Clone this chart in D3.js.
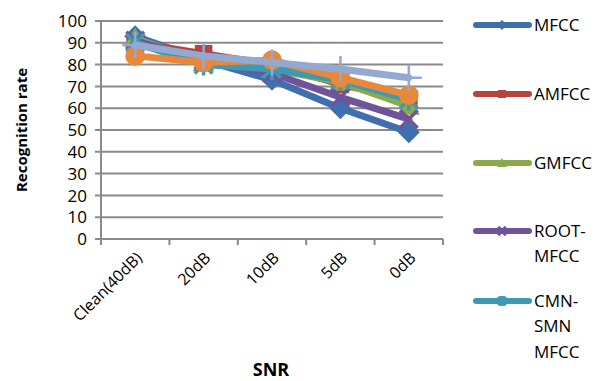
<!DOCTYPE html>
<html><head><meta charset="utf-8">
<script src="https://cdn.jsdelivr.net/npm/d3@7"></script>
<style>body{margin:0;background:#fff}svg{display:block}text{font-family:"Open Sans",sans-serif}</style>
</head><body><svg id="c" width="607" height="381"></svg>
<script>
const categories = ["Clean(40dB)", "20dB", "10dB", "5dB", "0dB"];
const seriesNames = ["MFCC", "AMFCC", "GMFCC", "ROOT-MFCC", "CMN-SMN MFCC", "Series6", "Series7"];
const mfcc   = [93, 82, 73, 60, 49];
const amfcc  = [90, 85, 80, 71, 64];
const gmfcc  = [92, 81, 78, 72, 61];
const rootm  = [91, 82, 76, 65, 55];
const cmnsmn = [90, 80, 78, 73, 64];
const s6     = [84, 81, 82, 74, 66];
const s7     = [89, 84, 81, 78, 74];
const yTicks = [0,10,20,30,40,50,60,70,80,90,100];
const legendLines = [["MFCC"],["AMFCC"],["GMFCC"],["ROOT-","MFCC"],["CMN-","SMN","MFCC"]];

const colors = ["#3F6FAE", "#B5443F", "#8BAA4A", "#70549A", "#3C9AB2", "#E8883A", "#93A9D1"];
const markers = ["diamond","square","triangle","x","star","circle","plus"];
const values = [mfcc, amfcc, gmfcc, rootm, cmnsmn, s6, s7];

const svg = d3.select("#c");
const L = 101, R = 443, T = 21, B = 239;
const x = d3.scaleBand().domain(categories).range([L, R]);
const y = d3.scaleLinear().domain([0, 100]).range([B, T]);

svg.append("g").selectAll("line").data(yTicks).join("line")
  .attr("x1", L - 6).attr("x2", R).attr("y1", d => y(d)).attr("y2", d => y(d))
  .attr("stroke", "#8a8a8a").attr("stroke-width", 2);
svg.append("line").attr("x1", L).attr("x2", L).attr("y1", T).attr("y2", B + 6)
  .attr("stroke", "#8a8a8a").attr("stroke-width", 2);
const xt = categories.map(c => x(c)).concat([R]);
svg.append("g").selectAll("line").data(xt.slice(1)).join("line")
  .attr("x1", d => d).attr("x2", d => d).attr("y1", B).attr("y2", B + 6)
  .attr("stroke", "#8a8a8a").attr("stroke-width", 2);

svg.append("g").selectAll("text").data(yTicks).join("text")
  .attr("x", L - 14).attr("y", d => y(d)).attr("dy", "0.36em")
  .attr("text-anchor", "end").attr("font-size", 17).attr("fill", "#000").text(d => d);
svg.append("g").selectAll("text").data(categories).join("text")
  .attr("transform", d => `translate(${x(d) + x.bandwidth()/2 + 4},${B + 16}) rotate(-45)`)
  .attr("text-anchor", "end").attr("dy", "0.35em").attr("font-size", 16).text(d => d);

svg.append("text").attr("transform", `translate(27,${(T+B)/2}) rotate(-90)`)
  .attr("text-anchor", "middle").attr("font-size", 15).attr("font-weight", "bold").text("Recognition rate");
svg.append("text").attr("x", 271).attr("y", 376).attr("text-anchor", "middle")
  .attr("font-size", 18).attr("font-weight", "bold").text("SNR");

function marker(g, type, color, cx, cy, s) {
  if (type === "diamond") g.append("path").attr("d", `M${cx},${cy-s}L${cx+s},${cy}L${cx},${cy+s}L${cx-s},${cy}Z`).attr("fill", color);
  else if (type === "square") g.append("rect").attr("x", cx-s*0.8).attr("y", cy-s*0.8).attr("width", s*1.6).attr("height", s*1.6).attr("fill", color);
  else if (type === "triangle") g.append("path").attr("d", `M${cx},${cy-s}L${cx+s},${cy+s*0.8}L${cx-s},${cy+s*0.8}Z`).attr("fill", color);
  else if (type === "circle") g.append("circle").attr("cx", cx).attr("cy", cy).attr("r", s*0.9).attr("fill", color);
  else if (type === "x") g.append("path").attr("d", `M${cx-s*0.8},${cy-s*0.8}L${cx+s*0.8},${cy+s*0.8}M${cx-s*0.8},${cy+s*0.8}L${cx+s*0.8},${cy-s*0.8}`).attr("stroke", color).attr("stroke-width", 3.5);
  else if (type === "star") g.append("path").attr("d", `M${cx-s*0.8},${cy-s*0.8}L${cx+s*0.8},${cy+s*0.8}M${cx-s*0.8},${cy+s*0.8}L${cx+s*0.8},${cy-s*0.8}M${cx},${cy-s}L${cx},${cy+s}`).attr("stroke", color).attr("stroke-width", 3.5);
  else if (type === "plus") g.append("path").attr("d", `M${cx-s},${cy}L${cx+s},${cy}M${cx},${cy-s}L${cx},${cy+s}`).attr("stroke", color).attr("stroke-width", 2.5);
}

const line = d3.line().x((d, i) => x(categories[i]) + x.bandwidth()/2).y(d => y(d));
values.forEach((vals, si) => {
  const g = svg.append("g");
  g.append("path").attr("d", line(vals)).attr("fill", "none").attr("stroke", colors[si])
    .attr("stroke-width", 7).attr("stroke-linejoin", "round").attr("stroke-linecap", "round");
  vals.forEach((v, i) => marker(g, markers[si], colors[si], x(categories[i]) + x.bandwidth()/2, y(v), markers[si]==="plus"?13:11));
});

let ly = 25;
const lg = svg.append("g");
legendLines.forEach((lines, si) => {
  lg.append("line").attr("x1", 476).attr("x2", 529).attr("y1", ly).attr("y2", ly)
    .attr("stroke", colors[si]).attr("stroke-width", 6).attr("stroke-linecap", "round");
  marker(lg, markers[si], colors[si], 502, ly, 5);
  lines.forEach((t, k) => lg.append("text").attr("x", 534).attr("y", ly + k*25.5).attr("dy", "0.35em")
    .attr("font-size", 17).text(t));
  ly += [69, 69, 68, 70, 0][si];
});
</script></body></html>
